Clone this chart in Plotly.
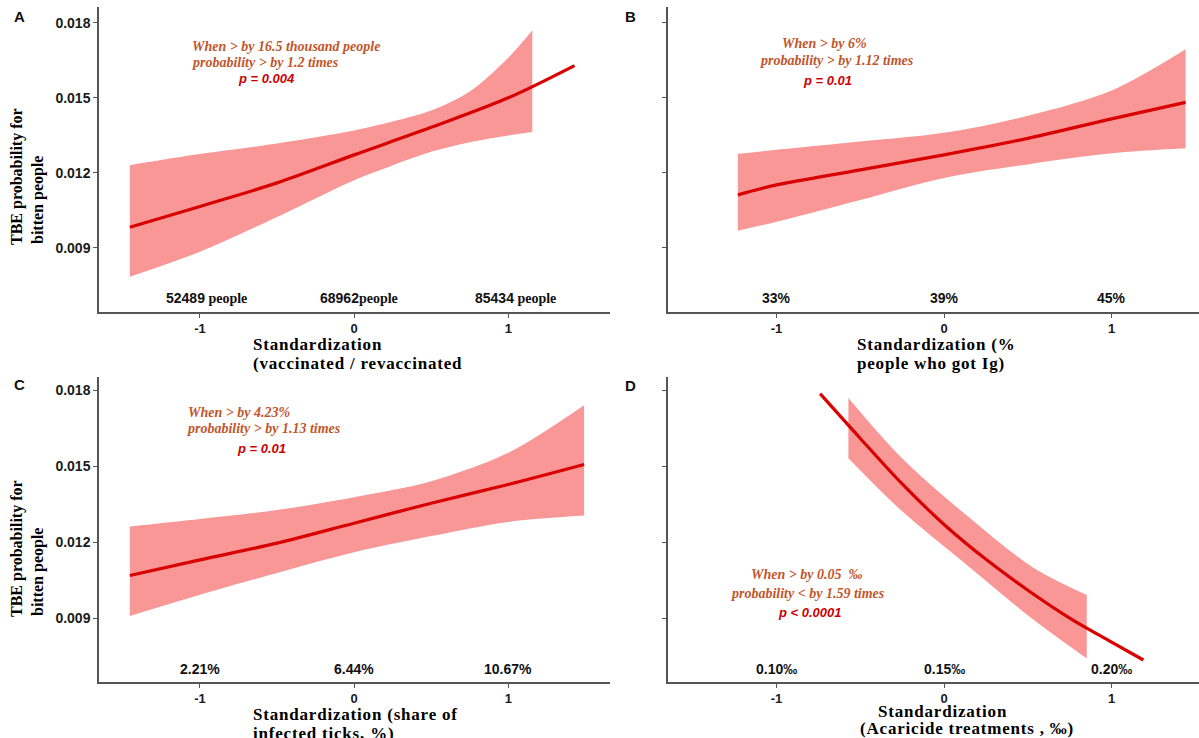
import plotly.graph_objects as go

W, H = 1199, 738

# ---- Panel A: vaccinated / revaccinated ----
a_line_x = [-1.455, -1.0, -0.5, 0.0, 0.5, 1.0, 1.43]
a_line_y = [0.00983, 0.01066, 0.01160, 0.01272, 0.01382, 0.01500, 0.01629]
a_band_x = [-1.455, -1.0, -0.5, 0.0, 0.25, 0.5, 0.75, 1.0, 1.156]
a_band_hi = [0.01231, 0.01275, 0.01317, 0.01369, 0.01405, 0.01449, 0.01525, 0.01660, 0.01770]
a_band_lo = [0.00785, 0.00885, 0.01024, 0.01171, 0.01230, 0.01284, 0.01322, 0.01349, 0.01363]

# ---- Panel B: % people who got Ig ----
b_line_x = [-1.231, -1.0, -0.5, 0.0, 0.5, 1.0, 1.442]
b_line_y = [0.01112, 0.01152, 0.01212, 0.01272, 0.01338, 0.01416, 0.01482]
b_band_x = [-1.231, -1.0, -0.5, 0.0, 0.5, 1.0, 1.442]
b_band_hi = [0.01276, 0.01292, 0.01325, 0.01360, 0.01428, 0.01529, 0.01694]
b_band_lo = [0.00969, 0.01005, 0.01092, 0.01180, 0.01234, 0.01278, 0.01298]

# ---- Panel C: share of infected ticks ----
c_line_x = [-1.455, -1.0, -0.5, 0.0, 0.5, 1.0, 1.492]
c_line_y = [0.01068, 0.01130, 0.01196, 0.01275, 0.01354, 0.01428, 0.01507]
c_band_x = [-1.455, -1.0, -0.5, 0.0, 0.5, 1.0, 1.492]
c_band_hi = [0.01262, 0.01292, 0.01327, 0.01378, 0.01441, 0.01553, 0.01741]
c_band_lo = [0.00908, 0.00992, 0.01078, 0.01160, 0.01224, 0.01280, 0.01305]

# ---- Panel D: acaricide treatments ----
d_line_x = [-0.74, -0.5, -0.25, 0.0, 0.25, 0.5, 0.75, 1.0, 1.19]
d_line_y = [0.01787, 0.01610, 0.01430, 0.01270, 0.01132, 0.01010, 0.00900, 0.00805, 0.00734]
d_band_x = [-0.571, -0.263, 0.136, 0.531, 0.852]
d_band_hi = [0.01770, 0.01540, 0.01305, 0.01100, 0.00991]
d_band_lo = [0.01532, 0.01330, 0.01110, 0.00895, 0.00740]

y_ticks = [0.009, 0.012, 0.015, 0.018]
y_tick_text = ["0.009", "0.012", "0.015", "0.018"]
x_ticks = [-1, 0, 1]
x_tick_text = ["-1", "0", "1"]

a_bottom = [("52489", " people"), ("68962", "people"), ("85434", " people")]
b_bottom = ["33%", "39%", "45%"]
c_bottom = ["2.21%", "6.44%", "10.67%"]
d_bottom = ["0.10‰", "0.15‰", "0.20‰"]

LINE = "#d80000"
BAND = "#f99696"
NOTE = "#c0562c"
PCOL = "#cc0000"
AXIS = "#555555"
SERIF = "Liberation Serif"
SANS = "Liberation Sans"


def px(x):
    return x / W


def py(y):
    return 1 - y / H


fig = go.Figure()

panels = [
    ("x", "y", a_line_x, a_line_y, a_band_x, a_band_hi, a_band_lo),
    ("x2", "y2", b_line_x, b_line_y, b_band_x, b_band_hi, b_band_lo),
    ("x3", "y3", c_line_x, c_line_y, c_band_x, c_band_hi, c_band_lo),
    ("x4", "y4", d_line_x, d_line_y, d_band_x, d_band_hi, d_band_lo),
]

for xa, ya, lx, ly, bx, bhi, blo in panels:
    edge = dict(width=0, shape="spline", smoothing=0.9, color=BAND)
    fig.add_trace(go.Scatter(x=bx, y=blo, xaxis=xa, yaxis=ya, mode="lines",
                             line=edge, hoverinfo="skip", showlegend=False))
    fig.add_trace(go.Scatter(x=bx, y=bhi, xaxis=xa, yaxis=ya, mode="lines",
                             line=edge, fill="tonexty", fillcolor=BAND,
                             hoverinfo="skip", showlegend=False))
    fig.add_trace(go.Scatter(x=lx, y=ly, xaxis=xa, yaxis=ya, mode="lines",
                             line=dict(width=3.2, shape="spline", smoothing=0.9, color=LINE),
                             showlegend=False))

x_left = [px(99), px(610)]
x_right = [px(668), 1.0]
y_top = [py(312), py(7)]
y_bot = [py(682), py(377)]
range_left = [-1.655, 1.66]
range_right = [-1.648, 1.522]
range_top = [0.00644, 0.01863]
range_bot = [0.00647, 0.01853]


def xaxis(domain, rng, anchor):
    return dict(domain=domain, range=rng, anchor=anchor, tickvals=x_ticks,
                ticktext=x_tick_text, showgrid=False, zeroline=False,
                showline=True, linecolor=AXIS, linewidth=1.5, ticks="outside",
                ticklen=4, tickcolor=AXIS,
                tickfont=dict(family=SANS, size=13, color="#1a1a1a", weight="bold"))


def yaxis(domain, rng, anchor, labels):
    return dict(domain=domain, range=rng, anchor=anchor, tickvals=y_ticks,
                ticktext=y_tick_text, showticklabels=labels, showgrid=False,
                zeroline=False, showline=True, linecolor=AXIS, linewidth=1.5,
                ticks="outside", ticklen=4, tickcolor=AXIS,
                tickfont=dict(family=SANS, size=14, color="#1a1a1a", weight="bold"))


fig.update_layout(
    width=W, height=H, margin=dict(l=0, r=0, t=0, b=0),
    paper_bgcolor="white", plot_bgcolor="white",
    xaxis=xaxis(x_left, range_left, "y"),
    yaxis=yaxis(y_top, range_top, "x", True),
    xaxis2=xaxis(x_right, range_right, "y2"),
    yaxis2=yaxis(y_top, range_top, "x2", False),
    xaxis3=xaxis(x_left, range_left, "y3"),
    yaxis3=yaxis(y_bot, range_bot, "x3", True),
    xaxis4=xaxis(x_right, range_right, "y4"),
    yaxis4=yaxis(y_bot, range_bot, "x4", False),
)

ann = []


def text(x, y, s, size, family=SERIF, color="black", xanchor="center", angle=0):
    ann.append(dict(x=px(x), y=py(y), xref="paper", yref="paper", text=s,
                    showarrow=False, xanchor=xanchor, yanchor="middle",
                    textangle=angle,
                    font=dict(family=family, size=size, color=color)))


# panel letters
for letter, lx_, ly_ in [("A", 19, 17), ("B", 630, 16), ("C", 19, 384), ("D", 630, 385)]:
    text(lx_, ly_, "<b>" + letter + "</b>", 15, SANS, "#111111")

# y-axis titles (left column only)
for dy in (0, 372):
    text(17, 177 + dy, "<b>TBE probability for</b>", 16, angle=-90)
    text(38, 200 + dy, "<b>bitten people</b>", 16, angle=-90)

# x-axis titles
ls = "letter-spacing:0.8px"
text(251, 344, f"<b><span style='{ls}'>Standardization</span></b>", 17, xanchor="left")
text(251, 363, f"<b><span style='{ls}'>(vaccinated / revaccinated</span></b>", 17, xanchor="left")
text(855, 344, f"<b><span style='{ls}'>Standardization (%</span></b>", 17, xanchor="left")
text(855, 363, f"<b><span style='{ls}'>people who got Ig)</span></b>", 17, xanchor="left")
text(251, 714, f"<b><span style='{ls}'>Standardization (share of</span></b>", 17, xanchor="left")
text(251, 733, f"<b><span style='{ls}'>infected ticks, %)</span></b>", 17, xanchor="left")
text(942, 711, f"<b><span style='{ls}'>Standardization</span></b>", 17)
text(967, 728.5, f"<b><span style='{ls}'>(Acaricide treatments , ‰)</span></b>", 17)

# effect notes
text(190, 46, "<b><i>When &gt; by 16.5 thousand people</i></b>", 14, color=NOTE, xanchor="left")
text(190, 62, "<b><i>probability &gt; by 1.2 times</i></b>", 14, color=NOTE, xanchor="left")
text(266, 79, "<b><i>p = 0.004</i></b>", 13, SANS, PCOL)

text(824, 44, "<b><i>When &gt; by 6%</i></b>", 14, color=NOTE)
text(837, 60, "<b><i>probability &gt; by 1.12 times</i></b>", 14, color=NOTE)
text(827, 80, "<b><i>p = 0.01</i></b>", 13, SANS, PCOL)

text(186, 412, "<b><i>When &gt; by 4.23%</i></b>", 14, color=NOTE, xanchor="left")
text(185, 428, "<b><i>probability &gt; by 1.13 times</i></b>", 14, color=NOTE, xanchor="left")
text(261, 448, "<b><i>p = 0.01</i></b>", 13, SANS, PCOL)

text(806, 574, "<b><i>When &gt; by 0.05  ‰</i></b>", 14, color=NOTE)
text(808, 593, "<b><i>probability &lt; by 1.59 times</i></b>", 14, color=NOTE)
text(810, 612, "<b><i>p &lt; 0.0001</i></b>", 13, SANS, PCOL)

# values of the raw variable at the standardized ticks
for i, (num, unit) in enumerate(a_bottom):
    ann.append(dict(x=x_ticks[i], y=0.00698, xref="x", yref="y", xshift=[7, 5, 7][i],
                    text=f"<b><span style='font-family:{SANS}'>{num}</span>{unit}</b>",
                    showarrow=False, yanchor="middle",
                    font=dict(family=SERIF, size=14, color="#111111")))
for labels, xr, yr, yv in [(b_bottom, "x2", "y2", 0.00698),
                           (c_bottom, "x3", "y3", 0.00700),
                           (d_bottom, "x4", "y4", 0.00700)]:
    for i, lab in enumerate(labels):
        ann.append(dict(x=x_ticks[i], y=yv, xref=xr, yref=yr, text=f"<b>{lab}</b>",
                        showarrow=False, yanchor="middle",
                        font=dict(family=SANS, size=14, color="#111111")))

fig.update_layout(annotations=ann)
fig.write_html("out.html")
